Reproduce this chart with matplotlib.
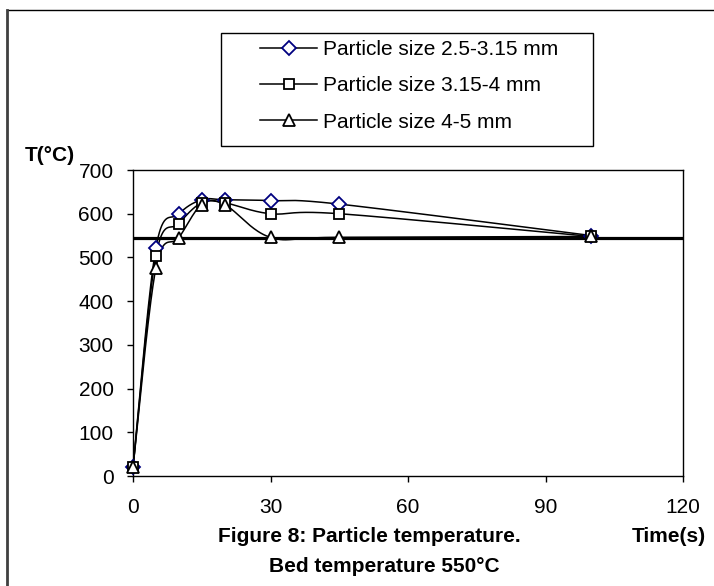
import matplotlib
matplotlib.use("Agg")
import matplotlib.pyplot as plt
from matplotlib.lines import Line2D
from matplotlib.patches import Rectangle
import numpy as np

plt.rcParams['font.family'] = ['Liberation Sans', 'DejaVu Sans']

time_s = [0, 5, 10, 15, 20, 30, 45, 100]
temp_small = [20, 522, 599, 632, 632, 630, 622, 550]
temp_mid = [20, 504, 577, 625, 625, 600, 600, 548]
temp_large = [20, 476, 545, 621, 621, 546, 546, 548]
bed_temp = 545
labels = ['Particle size 2.5-3.15 mm', 'Particle size 3.15-4 mm', 'Particle size 4-5 mm']


def smooth(x, y, n=40):
    # Excel-style smoothed line (Catmull-Rom as cubic Bezier segments)
    pts = np.column_stack([x, y]).astype(float)
    p = np.vstack([pts[0], pts, pts[-1]])
    t = np.linspace(0, 1, n)[:, None]
    out = []
    for i in range(1, len(p) - 2):
        p0, p1, p2, p3 = p[i - 1], p[i], p[i + 1], p[i + 2]
        c1 = p1 + (p2 - p0) / 6
        c2 = p2 - (p3 - p1) / 6
        out.append((1 - t) ** 3 * p1 + 3 * (1 - t) ** 2 * t * c1
                   + 3 * (1 - t) * t ** 2 * c2 + t ** 3 * p2)
    out = np.vstack(out)
    return out[:, 0], out[:, 1]


fig = plt.figure(figsize=(7.14, 5.86), dpi=100)
ax = fig.add_axes([133 / 714, 1 - 476 / 586, 550 / 714, 306 / 586])

ax.axhline(bed_temp, color='black', lw=2.3, zorder=1)

styles = [
    (temp_small, 'D', 7.5, '#000080'),
    (temp_mid, 's', 7.5, 'black'),
    (temp_large, '^', 8.5, 'black'),
]
handles = []
for (vals, mk, ms, ec), lab in zip(styles, labels):
    sx, sy = smooth(time_s, vals)
    ax.plot(sx, sy, color='black', lw=1.1, zorder=2)
    ax.plot(time_s, vals, ls='none', marker=mk, ms=ms, mfc='white', mec=ec,
            mew=1.3, zorder=3, clip_on=False)
    handles.append(Line2D([], [], color='black', lw=1.1, marker=mk, ms=ms,
                          mfc='white', mec=ec, mew=1.3))

ax.set_xlim(0, 120)
ax.set_ylim(0, 700)
ax.set_xticks([0, 30, 60, 90, 120])
ax.set_yticks(range(0, 701, 100))
ax.tick_params(direction='out', length=4, width=1, labelsize=15, colors='black')
ax.tick_params(axis='y', pad=10)
ax.tick_params(axis='x', pad=12)
for s in ax.spines.values():
    s.set_linewidth(1)

# legend with a drawn box
fig.patches.append(Rectangle((221 / 714, 1 - 146 / 586), 372 / 714, 113 / 586,
                             transform=fig.transFigure, fill=False,
                             ec='black', lw=1))
fig.legend(handles, labels, loc='center left', frameon=False, fontsize=15,
           bbox_to_anchor=(250 / 714, 1 - 86 / 586), handlelength=2.7,
           handletextpad=0.3, labelspacing=0.82, borderpad=0)

fig.text(25 / 714, 1 - 155 / 586, 'T(°C)', fontsize=15, fontweight='bold',
         ha='left', va='center')
fig.text(369 / 714, 1 - 536 / 586, 'Figure 8: Particle temperature.',
         fontsize=15, fontweight='bold', ha='center', va='center')
fig.text(384 / 714, 1 - 567 / 586, 'Bed temperature 550°C',
         fontsize=15, fontweight='bold', ha='center', va='center')
fig.text(706 / 714, 1 - 537 / 586, 'Time(s)', fontsize=15, fontweight='bold',
         ha='right', va='center')

# outer frame (top and left edges)
fig.add_artist(Line2D([7 / 714, 1], [1 - 10 / 586, 1 - 10 / 586],
                      transform=fig.transFigure, color='black', lw=1))
fig.add_artist(Line2D([7 / 714, 7 / 714], [0, 1 - 10 / 586],
                      transform=fig.transFigure, color='#404040', lw=2))

fig.savefig('out.png', dpi=100)
